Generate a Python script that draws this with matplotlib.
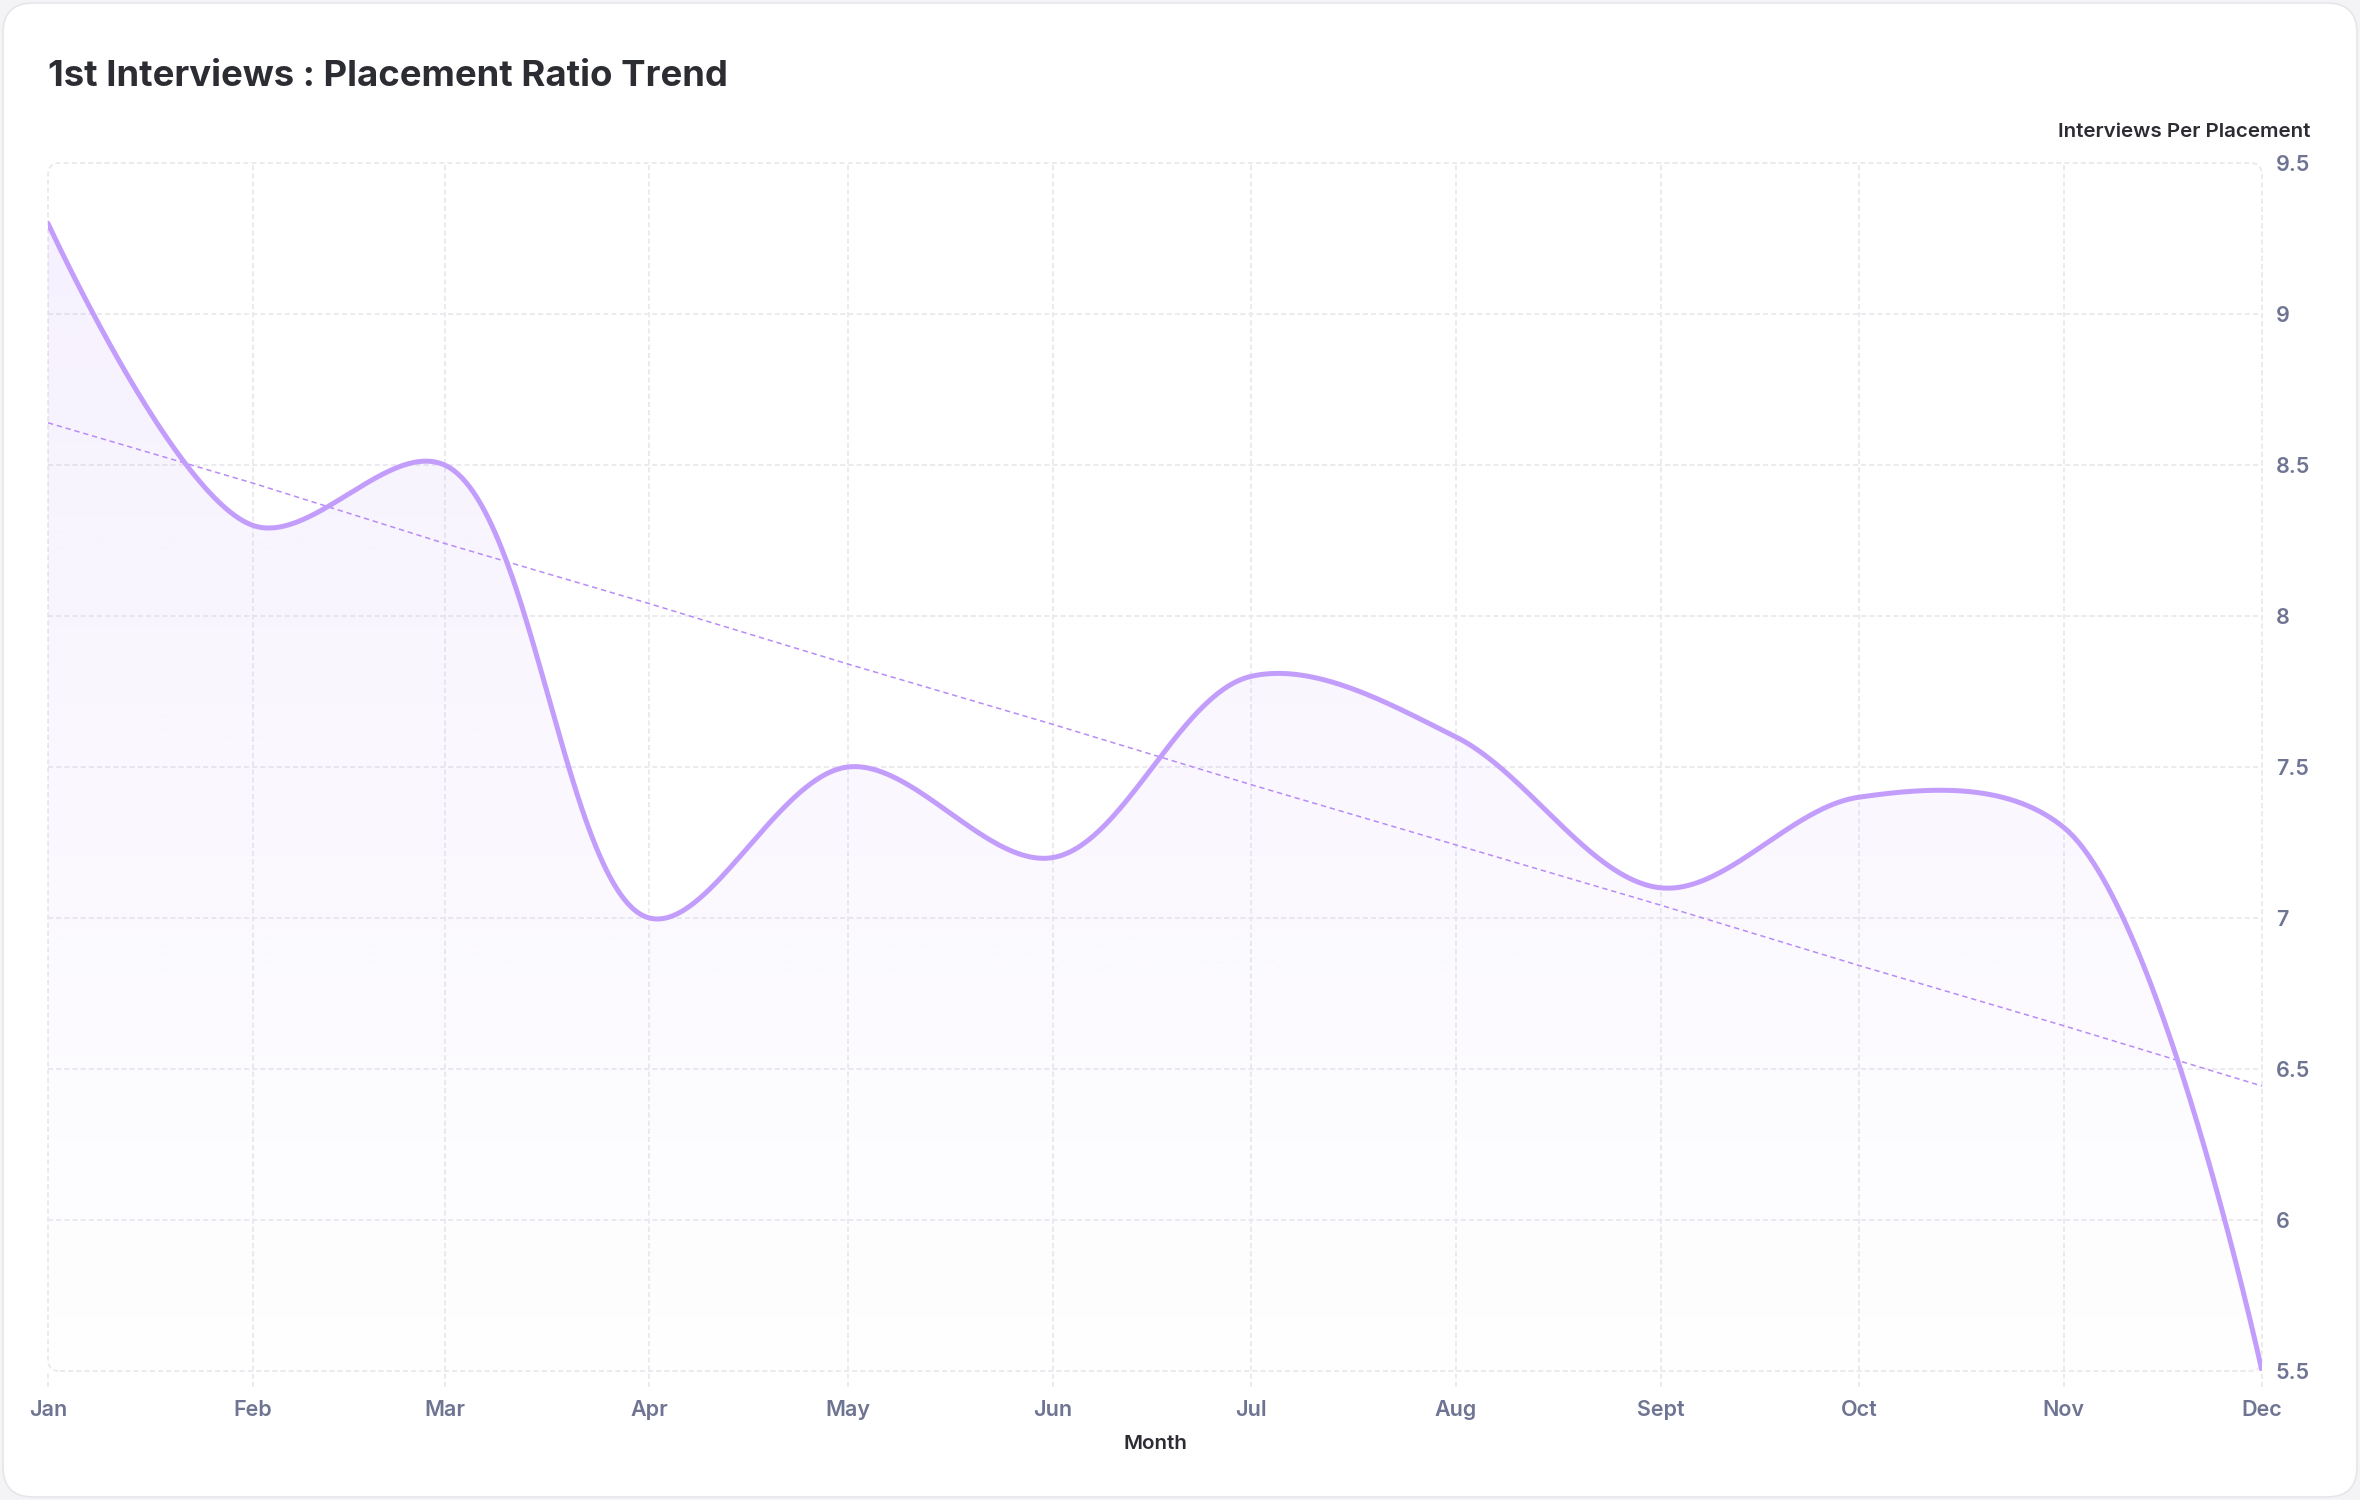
import numpy as np
import matplotlib
matplotlib.use("Agg")
import matplotlib.pyplot as plt
import matplotlib.dates as mdates
from matplotlib.patches import FancyBboxPatch
from matplotlib.path import Path
from matplotlib.patches import PathPatch
import datetime as dt

# ---------------- data ----------------
months = ["Jan", "Feb", "Mar", "Apr", "May", "Jun", "Jul", "Aug", "Sept", "Oct", "Nov", "Dec"]
month_dates = [dt.date(2024, m, 1) for m in range(1, 13)]
ratio = [9.3, 8.3, 8.5, 7.0, 7.5, 7.2, 7.8, 7.6, 7.1, 7.4, 7.3, 5.5]
y_ticks = [5.5, 6, 6.5, 7, 7.5, 8, 8.5, 9, 9.5]
y_tick_labels = ["5.5", "6", "6.5", "7", "7.5", "8", "8.5", "9", "9.5"]

title = "1st Interviews : Placement Ratio Trend"
y_title = "Interviews Per Placement"
x_title = "Month"

FONT = ["Inter", "DejaVu Sans"]
plt.rcParams["font.family"] = FONT

LINE_C = "#c39dfb"
TREND_C = "#b88bf7"
GRID_C = "#ebebef"
TICK_C = "#6e7492"
DARK = "#2c2c33"


def catmull_rom(P, alpha=0.5, samples=120):
    """Centripetal Catmull-Rom (d3.curveCatmullRom style) through points P (display px)."""
    P = np.asarray(P, float)
    n = len(P)
    out = [P[:1]]
    t = np.linspace(0, 1, samples)[1:, None]
    for i in range(n - 1):
        p1, p2 = P[i], P[i + 1]
        l12 = np.hypot(*(p2 - p1))
        l12_a, l12_2a = l12 ** alpha, l12 ** (2 * alpha)
        if i > 0:
            p0 = P[i - 1]
            l01 = np.hypot(*(p1 - p0))
            l01_a, l01_2a = l01 ** alpha, l01 ** (2 * alpha)
            a = 2 * l01_2a + 3 * l01_a * l12_a + l12_2a
            nn = 3 * l01_a * (l01_a + l12_a)
            c1 = (p1 * a - p0 * l12_2a + p2 * l01_2a) / nn
        else:
            c1 = p1
        if i < n - 2:
            p3 = P[i + 2]
            l23 = np.hypot(*(p3 - p2))
            l23_a, l23_2a = l23 ** alpha, l23 ** (2 * alpha)
            b = 2 * l23_2a + 3 * l23_a * l12_a + l12_2a
            m = 3 * l23_a * (l23_a + l12_a)
            c2 = (p2 * b + p1 * l23_2a - p3 * l12_2a) / m
        else:
            c2 = p2
        seg = ((1 - t) ** 3) * p1 + 3 * ((1 - t) ** 2) * t * c1 + 3 * (1 - t) * t ** 2 * c2 + t ** 3 * p2
        out.append(seg)
    return np.vstack(out)


W, H, DPI = 2360, 1500, 100
fig = plt.figure(figsize=(W / DPI, H / DPI), dpi=DPI)
fig.patch.set_facecolor("#f4f4f6")

card = FancyBboxPatch((0.03, 0.03), W / DPI - 0.06, H / DPI - 0.06,
                      boxstyle="round,pad=0,rounding_size=0.3",
                      transform=fig.dpi_scale_trans, facecolor="white",
                      edgecolor="#e6e6ea", linewidth=1.2, zorder=-5)
fig.patches.append(card)

L, R, T, B = 48, 2262, 163, 1371
ax = fig.add_axes([L / W, 1 - B / H, (R - L) / W, (B - T) / H])
ax.set_zorder(2)
ax.set_facecolor("none")
for s in ax.spines.values():
    s.set_visible(False)

xnum = mdates.date2num(month_dates)
ax.set_xlim(xnum[0], xnum[-1])
ax.set_ylim(5.5, 9.5)

# smooth curve computed in display space, mapped back to data space
disp = ax.transData.transform(np.column_stack([xnum, ratio]))
curve = ax.transData.inverted().transform(catmull_rom(disp))
xs, ys = curve[:, 0], curve[:, 1]

# grid (interior) + rounded dashed border
dash = (0, (2.6, 1.6))
for yv in y_ticks[1:-1]:
    ax.axhline(yv, color=GRID_C, lw=1.4, linestyle=dash, zorder=1)
for i, xv in enumerate(xnum):
    y0 = -0.0135
    y1 = 1.0 if 0 < i < len(xnum) - 1 else 0.0
    ax.plot([xv, xv], [y0, y1], transform=ax.get_xaxis_transform(),
            color=GRID_C, lw=1.4, linestyle=dash, clip_on=False, zorder=1)
border = FancyBboxPatch((L / DPI, (H - B) / DPI), (R - L) / DPI, (B - T) / DPI,
                        boxstyle="round,pad=0,rounding_size=0.12",
                        transform=fig.dpi_scale_trans, facecolor="none",
                        edgecolor=GRID_C, lw=1.4, linestyle=dash, zorder=1)
fig.patches.append(border)

# gradient fill below curve
grad = np.linspace(0.0, 1.0, 256)[:, None]
rgba = np.zeros((256, 1, 4))
rgba[..., 0] = 0xb4 / 255
rgba[..., 1] = 0x8c / 255
rgba[..., 2] = 0xf8 / 255
rgba[..., 3] = 0.008 + 0.12 * grad ** 1.1
im = ax.imshow(rgba, extent=[xnum[0], xnum[-1], 5.5, 9.5], origin="lower",
               aspect="auto", zorder=2, interpolation="bilinear")
verts = np.vstack([np.column_stack([xs, ys]),
                   [[xnum[-1], 5.5], [xnum[0], 5.5], [xs[0], ys[0]]]])
clip = PathPatch(Path(verts, closed=True), transform=ax.transData,
                 facecolor="none", edgecolor="none")
ax.add_patch(clip)
im.set_clip_path(clip)

# main curve
ax.plot(xs, ys, color=LINE_C, lw=3.6, solid_capstyle="round", zorder=4)

# trend line (least squares on month index)
idx = np.arange(len(ratio))
k, b0 = np.polyfit(idx, ratio, 1)
trend = k * idx + b0
ax.plot(xnum, trend, color=TREND_C, lw=1.1, linestyle=(0, (3.5, 2.5)), zorder=3)

# ticks
ax.set_xticks(xnum)
ax.set_xticklabels(months)
ax.set_yticks(y_ticks)
ax.set_yticklabels(y_tick_labels)
ax.yaxis.tick_right()
ax.tick_params(axis="x", length=0, pad=21, labelsize=15.5, labelcolor=TICK_C)
ax.tick_params(axis="y", length=0, pad=10, labelsize=15.5, labelcolor=TICK_C)
for lab in ax.get_xticklabels() + ax.get_yticklabels():
    lab.set_fontweight("semibold")

fig.text(48 / W, 1 - 77 / H, title, fontsize=26.3, fontweight="bold",
         color=DARK, ha="left", va="center")
fig.text(2310 / W, 1 - 132 / H, y_title, fontsize=14.8, fontweight="semibold",
         color=DARK, ha="right", va="center")
fig.text(1155 / W, 1 - 1444 / H, x_title, fontsize=14.8, fontweight="semibold",
         color=DARK, ha="center", va="center")

fig.savefig("out.png", dpi=DPI, facecolor=fig.get_facecolor())
